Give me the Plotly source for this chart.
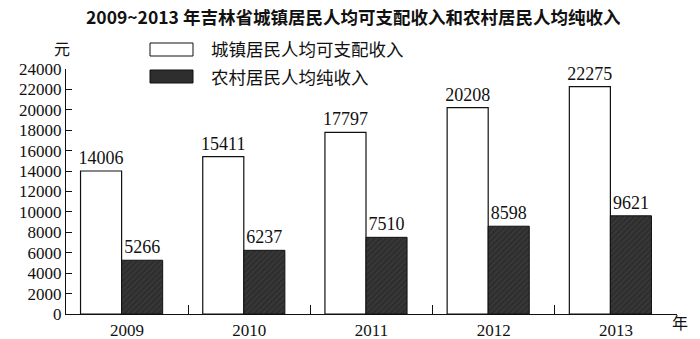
import plotly.graph_objects as go

years = ["2009", "2010", "2011", "2012", "2013"]
urban = [14006, 15411, 17797, 20208, 22275]
rural = [5266, 6237, 7510, 8598, 9621]
y_ticks = list(range(0, 24001, 2000))
title_text = "2009~2013 年吉林省城镇居民人均可支配收入和农村居民人均纯收入"
urban_name = "城镇居民人均可支配收入"
rural_name = "农村居民人均纯收入"

serif = "Liberation Serif, Times New Roman, serif"
cjk = "Noto Sans CJK SC, sans-serif"

W, H = 700, 339
l, r, t, b = 66, 23, 69, 25
pw, ph = W - l - r, H - t - b


def px2paper(x, y):
    return (x - l) / pw, (H - b - y) / ph


bar_w = 0.336
shift = -0.045

fig = go.Figure()
fig.add_trace(go.Bar(
    x=years, y=urban, name=urban_name, width=bar_w, offset=shift - bar_w,
    marker=dict(color="white", line=dict(color="#111", width=1.2)),
    text=[str(v) for v in urban], textposition="outside", constraintext="none",
    textfont=dict(family=serif, size=18, color="#111"), cliponaxis=False,
))
fig.add_trace(go.Bar(
    x=years, y=rural, name=rural_name, width=bar_w, offset=shift,
    marker=dict(color="#2e2e2e", line=dict(color="#111", width=1),
                pattern=dict(shape="/", fgcolor="#4a4a4a", size=4, solidity=0.3)),
    text=[str(v) for v in rural], textposition="outside", constraintext="none",
    textfont=dict(family=serif, size=18, color="#111"), cliponaxis=False,
))


def ann(text, x, y, size, anchor="center", bold=False):
    xx, yy = px2paper(x, y)
    return dict(text=("<b>" + text + "</b>") if bold else text, x=xx, y=yy,
                xref="paper", yref="paper", xanchor=anchor, yanchor="middle",
                showarrow=False, font=dict(family=cjk, size=size, color="#111"))


bx0, by0 = px2paper(150, 43)
bx1, by1 = px2paper(193, 56)
cx0, cy0 = px2paper(150, 70)
cx1, cy1 = px2paper(193, 83)

fig.update_layout(
    width=W, height=H,
    margin=dict(l=l, r=r, t=t, b=b, autoexpand=False),
    paper_bgcolor="white", plot_bgcolor="white",
    barmode="overlay",
    showlegend=False,
    xaxis=dict(
        type="category", range=[-0.5, 4.5], automargin=False,
        showline=True, linecolor="#111", linewidth=1.2,
        ticks="inside", tickson="boundaries", ticklen=9, tickcolor="#111", tickwidth=1,
        tickfont=dict(family=serif, size=17, color="#111"),
        showgrid=False, zeroline=False,
    ),
    yaxis=dict(
        range=[0, 24000], tickvals=y_ticks, tickformat="d", automargin=False,
        showline=True, linecolor="#111", linewidth=1.2,
        ticks="inside", ticklen=6, tickcolor="#111",
        tickfont=dict(family=serif, size=17, color="#111"),
        showgrid=False, zeroline=False,
    ),
    annotations=[
        ann(title_text, 353, 16, 17.5, bold=True),
        ann("元", 62, 48, 16),
        ann(urban_name, 209, 48, 17.5, anchor="left"),
        ann(rural_name, 209, 77, 17.5, anchor="left"),
        ann("年", 680, 322, 16),
    ],
    shapes=[
        dict(type="rect", xref="paper", yref="paper", x0=bx0, x1=bx1, y0=by1, y1=by0,
             fillcolor="white", line=dict(color="#111", width=1)),
        dict(type="rect", xref="paper", yref="paper", x0=cx0, x1=cx1, y0=cy1, y1=cy0,
             fillcolor="#2e2e2e", line=dict(color="#111", width=1)),
    ],
)

fig.write_html("out.html")
